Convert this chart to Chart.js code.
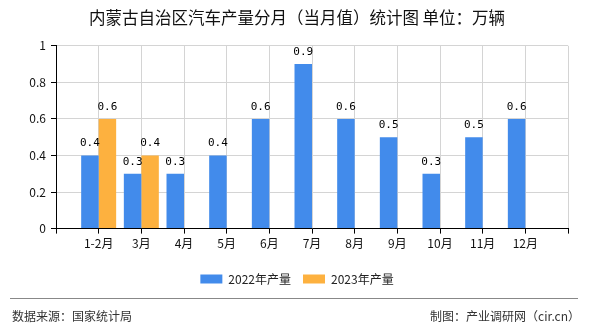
<!DOCTYPE html>
<html>
<head>
<meta charset="utf-8">
<script src="https://cdn.jsdelivr.net/npm/chart.js@4/dist/chart.umd.min.js"></script>
<style>
  html, body { margin: 0; padding: 0; background: #fff; }
  #wrap { width: 590px; height: 330px; }
</style>
</head>
<body>
<div id="wrap"><canvas id="chart" width="590" height="330"></canvas></div>
<script>
const categories = ['1-2月', '3月', '4月', '5月', '6月', '7月', '8月', '9月', '10月', '11月', '12月'];
const output2022 = [0.4, 0.3, 0.3, 0.4, 0.6, 0.9, 0.6, 0.5, 0.3, 0.5, 0.6];
const output2023 = [0.6, 0.4, null, null, null, null, null, null, null, null, null];
const yTicks = [0, 0.2, 0.4, 0.6, 0.8, 1];

const titleText = '内蒙古自治区汽车产量分月（当月值）统计图 单位：万辆';
const sourceText = '数据来源：国家统计局';
const makerText = '制图：产业调研网（cir.cn）';

const cjk = '"Noto Sans CJK SC", "Noto Sans", sans-serif';

// pad with an empty slot on each side so groups sit on the grid lines
const labels = [''].concat(categories, ['']);
const pad = arr => [null].concat(arr, [null]);

const valueLabels = {
    id: 'valueLabels',
    afterDatasetsDraw(chart) {
        const ctx = chart.ctx;
        ctx.save();
        ctx.font = '11px "DejaVu Sans Mono", monospace';
        ctx.fillStyle = '#000';
        ctx.textAlign = 'center';
        ctx.textBaseline = 'middle';
        chart.data.datasets.forEach((ds, i) => {
            const meta = chart.getDatasetMeta(i);
            meta.data.forEach((bar, j) => {
                const v = ds.data[j];
                if (v === null || v === undefined) return;
                ctx.fillText(String(v), bar.x, bar.y - 12);
            });
        });
        ctx.restore();
    }
};

const footer = {
    id: 'footer',
    afterDraw(chart) {
        const ctx = chart.ctx;
        ctx.save();
        ctx.strokeStyle = '#888';
        ctx.lineWidth = 1;
        ctx.beginPath();
        ctx.moveTo(10, 298.5);
        ctx.lineTo(578, 298.5);
        ctx.stroke();
        ctx.font = '12px ' + cjk;
        ctx.fillStyle = '#333';
        ctx.textBaseline = 'middle';
        ctx.textAlign = 'left';
        ctx.fillText(sourceText, 12, 316);
        ctx.textAlign = 'right';
        ctx.fillText(makerText, 580, 316);
        ctx.restore();
    }
};

new Chart(document.getElementById('chart'), {
    type: 'bar',
    data: {
        labels: labels,
        datasets: [
            {
                label: '2022年产量',
                data: pad(output2022),
                backgroundColor: '#428BEB',
                borderWidth: 0,
                categoryPercentage: 0.82,
                barPercentage: 1
            },
            {
                label: '2023年产量',
                data: pad(output2023),
                backgroundColor: '#FDB13F',
                borderWidth: 0,
                categoryPercentage: 0.82,
                barPercentage: 1
            }
        ]
    },
    options: {
        responsive: false,
        animation: false,
        layout: { padding: { left: 26, right: 22, top: 0, bottom: 35 } },
        plugins: {
            title: {
                display: true,
                text: titleText,
                color: '#111',
                font: { family: cjk, size: 16.5, weight: 'normal' },
                padding: { top: 8, bottom: 18 }
            },
            legend: {
                position: 'bottom',
                labels: {
                    boxWidth: 22,
                    boxHeight: 9,
                    padding: 12,
                    color: '#222',
                    font: { family: cjk, size: 12 }
                }
            },
            tooltip: { enabled: false }
        },
        scales: {
            x: {
                offset: false,
                grid: { offset: false, color: '#d4d4d4', tickColor: '#000', tickLength: 5 },
                border: { color: '#000' },
                ticks: {
                    autoSkip: false,
                    maxRotation: 0,
                    padding: 3,
                    color: '#111',
                    font: { family: cjk, size: 12 }
                },
                afterFit(scale) { scale.height += 7; }
            },
            y: {
                min: 0,
                max: 1,
                afterBuildTicks(scale) { scale.ticks = yTicks.map(v => ({ value: v })); },
                grid: { color: '#d4d4d4', tickColor: '#000', tickLength: 5 },
                border: { color: '#000' },
                ticks: {
                    padding: 5,
                    color: '#111',
                    font: { family: cjk, size: 12 },
                    callback: v => String(v)
                },
                afterFit(scale) { scale.width = 30; }
            }
        }
    },
    plugins: [valueLabels, footer]
});
</script>
</body>
</html>
